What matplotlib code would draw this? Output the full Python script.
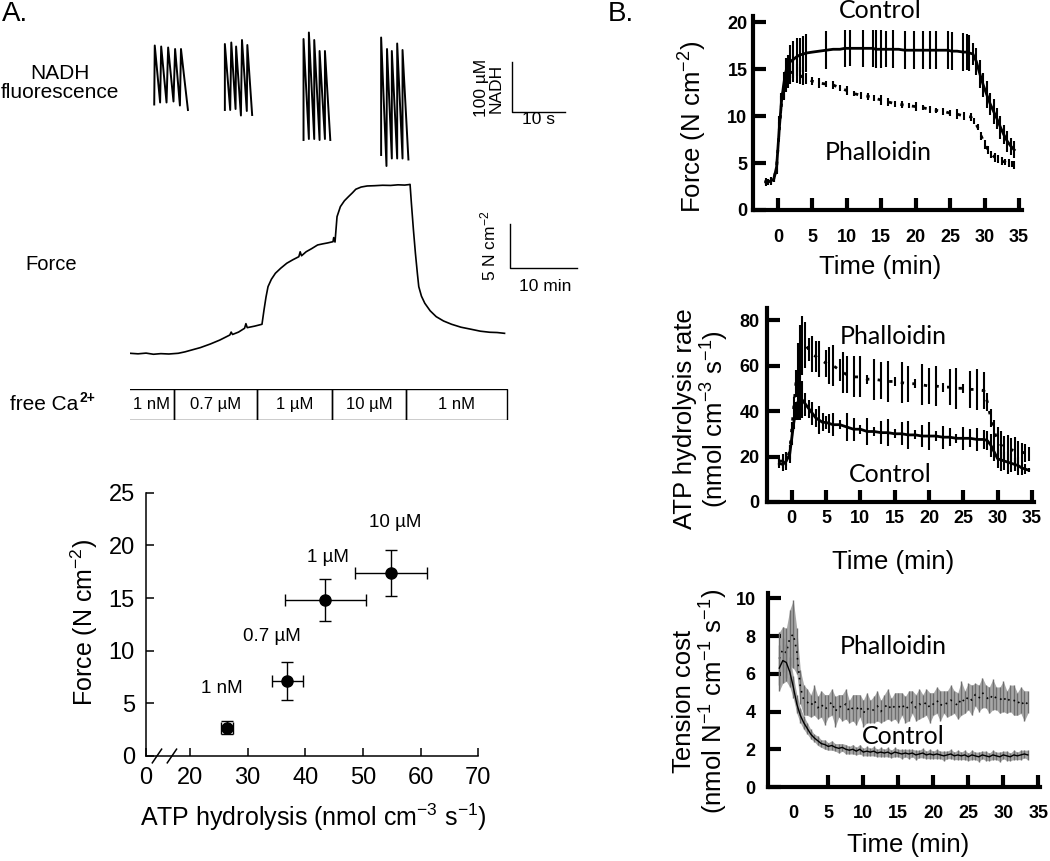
import numpy as np
import matplotlib
matplotlib.use("Agg")
import matplotlib.pyplot as plt

plt.rcParams['font.family'] = ['Liberation Sans', 'DejaVu Sans']
plt.rcParams['mathtext.fontset'] = 'custom'
plt.rcParams['mathtext.rm'] = 'Liberation Sans'
plt.rcParams['mathtext.it'] = 'Liberation Sans:italic'
plt.rcParams['mathtext.bf'] = 'Liberation Sans:bold'
plt.rcParams['mathtext.default'] = 'regular'

# ---------------- data, panel A ----------------
# NADH fluorescence snippets (time in s, NADH in uM, relative)
nadh_t1 = [4.9, 5.0, 6.0, 6.2, 7.2, 7.5, 8.5, 8.8, 9.7, 9.9, 11.2]
nadh_v1 = [141, 259, 145, 257, 145, 255, 147, 252, 139, 252, 130]
nadh_t2 = [18.1, 18.1, 19.1, 19.3, 20.1, 20.2, 21.1, 21.3, 22.2, 22.3, 23.2]
nadh_v2 = [130, 262, 130, 265, 132, 257, 119, 270, 128, 260, 120]
nadh_t3 = [32.8, 32.8, 33.8, 33.8, 34.8, 34.8, 35.8, 35.8, 36.8, 36.8, 37.8]
nadh_v3 = [70, 272, 72, 285, 72, 270, 70, 248, 72, 248, 70]
nadh_t4 = [47.3, 47.3, 48.3, 48.4, 49.3, 49.3, 50.3, 50.3, 51.3, 51.3, 52.4]
nadh_v4 = [40, 275, 18, 252, 33, 248, 33, 263, 33, 250, 31]

# force trace (time in min, force in N cm-2)
force_t = [0.0, 1.2, 2.4, 3.5, 4.6, 5.8, 7.2, 8.2, 9.2, 10.5, 12.0, 13.4, 14.9, 15.1,
           15.3, 16.2, 17.1, 17.3, 17.5, 18.6, 19.7, 20.0, 20.3, 20.6, 21.1, 21.7,
           22.5, 23.4, 24.3, 25.2, 25.4, 25.6, 26.3, 27.1, 28.0, 28.8, 29.5, 30.3,
           30.4, 30.6, 30.9, 31.4, 32.0, 32.6, 33.2, 33.7, 34.5, 35.4, 36.5, 37.7,
           38.9, 40.0, 41.0, 41.6, 41.8, 42.0, 42.3, 42.6, 42.9, 43.1, 43.5, 44.0,
           44.8, 45.7, 46.8, 48.0, 49.4, 50.9, 52.3, 53.7, 54.8, 55.9]
force_v = [2.56, 2.50, 2.58, 2.45, 2.52, 2.48, 2.56, 2.72, 2.93, 3.20, 3.61, 4.05, 4.62, 4.95,
           4.68, 4.95, 5.38, 5.90, 5.45, 5.62, 5.83, 7.44, 8.90, 10.07, 10.90, 11.58,
           12.15, 12.71, 13.10, 13.45, 14.00, 13.55, 14.01, 14.35, 14.77, 14.90, 15.00, 15.14,
           15.60, 15.10, 17.96, 19.09, 19.75, 20.21, 20.65, 21.05, 21.30, 21.42, 21.45, 21.50,
           21.48, 21.55, 21.52, 21.57, 21.60, 19.47, 16.50, 13.83, 11.50, 10.07, 9.00, 8.20,
           7.35, 6.69, 6.20, 5.83, 5.50, 5.27, 5.05, 4.93, 4.90, 4.81]

# free Ca2+ protocol (edges in min on the force trace time base)
ca_edges = [-0.3, 6.6, 19.0, 30.1, 41.2, 56.2]
ca_labels = ['1 nM', '0.7 µM', '1 µM', '10 µM', '1 nM']

# force vs ATP hydrolysis
pt_labels = ['1 nM', '0.7 µM', '1 µM', '10 µM']
atp_mean = [26.4, 36.9, 43.5, 54.9]
atp_err = [1.1, 2.65, 7.0, 6.2]
frc_mean = [2.7, 7.1, 14.8, 17.4]
frc_err = [0.6, 1.8, 2.0, 2.2]

# ---------------- data, panel B ----------------
fc_t = [-1.8, -1.4, -1.0, -0.6, -0.2, 0.2, 0.5, 0.8, 1.1, 1.4, 1.8, 2.2, 2.7, 3.2, 3.7, 4.1,
        5.0, 6.0, 7.0, 8.0, 9.0, 9.7, 10.5, 11.5, 12.3, 13.0, 13.8, 14.2, 15.0, 15.7, 16.7,
        17.5, 18.4, 19.8, 21.0, 22.0, 23.0, 24.0, 24.7, 25.2, 26.0, 26.9, 27.4, 27.8, 28.3,
        28.8, 29.3, 29.8, 30.3, 30.8, 31.3, 31.8, 32.3, 32.8, 33.3, 33.8, 34.3]
fc_v = [3.0, 3.0, 3.1, 3.3, 4.6, 8.8, 11.5, 13.2, 14.6, 15.3, 15.8, 16.0, 16.3, 16.5, 16.6, 16.7,
        16.8, 16.9, 17.0, 17.1, 17.1, 17.2, 17.2, 17.2, 17.2, 17.2, 17.2, 17.1, 17.1, 17.1, 17.1,
        17.1, 17.0, 17.0, 17.0, 17.0, 17.0, 17.0, 17.0, 16.9, 16.9, 16.8, 16.8, 16.7, 16.6,
        15.8, 14.5, 13.3, 12.3, 11.3, 10.5, 9.7, 8.8, 8.0, 7.3, 6.8, 6.4]
fc_e = [0.4, 0.3, 0.4, 0.3, 0.8, 1.2, 1.0, 1.5, 1.6, 1.2, 1.8, 2.0, 2.0, 1.8, 1.9, 2.0,
        0.0, 0.0, 2.0, 0.0, 0.0, 2.0, 1.9, 0.0, 2.0, 0.0, 2.0, 2.0, 2.0, 1.9, 2.0,
        0.0, 2.0, 2.0, 2.0, 2.0, 2.0, 0.0, 2.0, 2.0, 0.0, 2.0, 1.9, 1.9, 1.2,
        1.4, 1.5, 1.3, 1.4, 1.2, 1.3, 1.1, 1.2, 1.0, 1.1, 0.9, 0.9]

fp_t = [-1.8, -1.4, -1.0, -0.6, -0.2, 0.2, 0.5, 0.8, 1.1, 1.4, 1.8, 2.2, 2.7, 3.2, 3.7, 4.1,
        5, 6, 7, 8, 9, 10, 11, 12, 13, 14, 15, 16, 17, 18, 19, 20, 21, 22, 23, 24, 25, 26, 27,
        28, 28.5, 29, 29.5, 30, 30.5, 31, 31.5, 32, 32.5, 33, 33.5, 34, 34.3]
fp_v = [3.0, 3.0, 3.1, 3.3, 4.6, 8.6, 11.2, 12.8, 13.8, 14.3, 14.6, 14.7, 14.5, 14.3, 14.1, 14.0,
        13.7, 13.5, 13.4, 13.3, 13.0, 12.7, 12.4, 12.2, 12.1, 11.9, 11.7, 11.5, 11.3, 11.2, 11.1,
        11.0, 10.9, 10.7, 10.6, 10.5, 10.3, 10.2, 10.0, 9.9, 9.5, 8.8, 7.9, 7.0, 6.4, 5.9, 5.6,
        5.4, 5.2, 5.1, 5.0, 4.9, 4.8]
fp_e = [0.3, 0.3, 0.3, 0.3, 0.6, 0.8, 0.9, 1.0, 1.2, 1.3, 1.2, 1.1, 1.0, 0.9, 0.8, 0.6,
        0.4, 0.5, 0.3, 0.4, 0.3, 0.5, 0.3, 0.4, 0.4, 0.3, 0.5, 0.4, 0.3, 0.4, 0.3,
        0.5, 0.3, 0.4, 0.3, 0.4, 0.3, 0.5, 0.4, 0.4, 0.3, 0.3, 0.4, 0.5, 0.4, 0.4, 0.5,
        0.4, 0.4, 0.3, 0.4, 0.3, 0.4]

ac_t = [-1.8, -1.3, -0.8, -0.3, 0.0, 0.3, 0.6, 0.9, 1.2, 1.5, 2.0, 2.5, 3.0, 3.5, 4.0, 4.5, 5.0,
        5.5, 6.0, 7.0, 8.0, 9.0, 10.0, 11.0, 12.0, 13.0, 14.0, 15.0, 16.0, 17.0, 18.0, 19.0,
        20.0, 21.0, 22.0, 23.0, 24.0, 25.0, 26.0, 27.0, 28.0, 28.5, 29.0, 29.5, 30.0, 30.5,
        31.0, 31.5, 32.0, 32.5, 33.0, 33.5, 34.0, 34.5]
ac_v = [17, 16.5, 18, 21, 28, 35, 40, 44, 46, 45, 43, 41, 39, 37, 36, 35, 35,
        34.5, 34, 34, 33, 32, 32, 31, 31, 30.5, 30.5, 30, 30, 29.5, 29.5, 29,
        29, 29, 28.5, 28.5, 28, 28, 28, 27.5, 27.5, 27, 25, 22, 19, 18.5,
        18, 17.5, 17, 16.5, 16, 15, 14.5, 14]
ac_e = [2, 3, 4, 4, 3, 3, 4, 8, 10, 8, 5, 4, 5, 4, 6, 4, 3,
        4, 5, 2, 6, 5, 2, 6, 2, 5, 6, 2, 5, 6, 2, 5,
        6, 2, 5, 4, 2, 5, 4, 5, 4, 4, 5, 4, 4, 5,
        4, 5, 4, 3, 4, 3, 2, 1]

ap_t = [-1.8, -1.3, -0.8, -0.3, 0.0, 0.3, 0.6, 0.9, 1.2, 1.5, 2.0, 2.5, 3.0, 3.5, 4.0, 5.0,
        5.5, 6.0, 7.0, 7.5, 8.0, 9.0, 10.0, 11.0, 12.0, 13.0, 14.0, 15.0, 16.0, 17.0, 18.0,
        19.0, 20.0, 21.0, 22.0, 23.0, 24.0, 25.0, 26.0, 27.0, 28.0, 28.5, 29.0, 29.5, 30.0,
        30.5, 31.0, 31.5, 32.0, 32.5, 33.0, 33.5, 34.0, 34.5]
ap_v = [18, 18, 19, 22, 32, 42, 52, 60, 66, 69, 69, 67, 65, 64, 63, 61,
        60, 60, 58, 57, 56, 55, 55, 54, 54, 53.5, 53, 53, 52.5, 52, 52,
        51.5, 51, 51, 50.5, 50.5, 50, 50, 49.5, 49.5, 49, 44, 37, 31, 27,
        25, 24, 23.5, 23, 22.5, 22, 22, 21.5, 21]
ap_e = [2, 3, 3, 3, 3, 4, 6, 10, 12, 13, 10, 5, 8, 7, 8, 6,
        8, 9, 5, 9, 8, 9, 9, 2, 9, 8, 9, 2, 9, 8, 2,
        9, 8, 9, 2, 8, 9, 2, 8, 9, 8, 4, 4, 5, 6,
        6, 5, 6, 5, 6, 5, 4, 4, 3]

# tension cost, sampled every 0.5 min from -2 to 33.5 min
tc_t = np.arange(-2.0, 34.0, 0.5)
tp_v = [6.8, 7.3, 7.1, 7.9, 8.1, 7.2, 5.3, 4.6, 4.5, 4.3, 4.6, 4.2, 4.4, 4.1, 4.3, 4.5,
        4.0, 4.3, 4.2, 4.4, 4.0, 4.2, 4.1, 4.3, 3.9, 4.2, 4.0, 4.1, 4.3, 4.0, 4.2, 4.4,
        4.1, 4.3, 4.2, 4.4, 4.1, 4.3, 4.5, 4.2, 4.4, 4.3, 4.5, 4.2, 4.4, 4.6, 4.3, 4.5,
        4.4, 4.6, 4.5, 4.3, 4.7, 4.5, 4.8, 4.6, 4.9, 4.7, 5.0, 4.8, 4.6, 4.9, 4.7, 4.6,
        4.8, 4.5, 4.7, 4.6, 4.4, 4.6, 4.3, 4.5]
tp_e = [1.4, 1.2, 1.3, 1.5, 1.8, 1.2, 0.9, 0.8, 0.7, 0.6, 0.8, 0.6, 0.7, 0.8, 0.6, 0.7,
        0.8, 0.6, 0.7, 0.8, 0.6, 0.7, 0.8, 0.6, 0.7, 0.8, 0.6, 0.7, 0.8, 0.6, 0.7, 0.8,
        0.6, 0.7, 0.8, 0.6, 0.7, 0.8, 0.6, 0.7, 0.8, 0.6, 0.7, 0.8, 0.6, 0.7, 0.8, 0.6,
        0.7, 0.8, 0.6, 0.7, 0.9, 0.6, 0.7, 0.8, 0.6, 0.7, 0.8, 0.6, 0.7, 0.8, 0.6, 0.7,
        0.8, 0.6, 0.7, 0.8, 0.6, 0.7, 0.8, 0.6]
tcn_v = [6.3, 6.7, 6.6, 6.1, 5.3, 4.4, 3.8, 3.4, 3.1, 2.8, 2.6, 2.45, 2.3, 2.25, 2.15, 2.2,
         2.1, 2.05, 2.1, 2.0, 1.95, 2.0, 1.9, 2.0, 1.85, 1.9, 1.85, 1.9, 1.8, 1.85, 1.8, 1.85,
         1.75, 1.85, 1.8, 1.75, 1.8, 1.75, 1.8, 1.7, 1.75, 1.8, 1.7, 1.75, 1.7, 1.75, 1.7, 1.65,
         1.7, 1.75, 1.65, 1.7, 1.65, 1.7, 1.6, 1.7, 1.65, 1.6, 1.7, 1.65, 1.6, 1.7, 1.65, 1.6,
         1.7, 1.65, 1.6, 1.7, 1.65, 1.7, 1.75, 1.7]
tcn_e = [1.2, 1.2, 1.0, 0.8, 0.6, 0.5, 0.4, 0.35, 0.3, 0.25, 0.2, 0.25, 0.2, 0.25, 0.2, 0.25,
         0.2, 0.25, 0.2, 0.25, 0.2, 0.25, 0.2, 0.25, 0.2, 0.25, 0.2, 0.25, 0.2, 0.25, 0.2, 0.25,
         0.2, 0.25, 0.2, 0.25, 0.2, 0.25, 0.2, 0.25, 0.2, 0.25, 0.2, 0.25, 0.2, 0.25, 0.2, 0.25,
         0.2, 0.25, 0.2, 0.25, 0.2, 0.25, 0.2, 0.25, 0.2, 0.25, 0.2, 0.25, 0.2, 0.25, 0.2, 0.25,
         0.2, 0.25, 0.2, 0.25, 0.2, 0.25, 0.2, 0.25]

# ---------------- figure ----------------
W, H = 1050, 861
fig = plt.figure(figsize=(W / 100, H / 100), dpi=100)


def px_axes(x0, y0, x1, y1):
    return fig.add_axes([x0 / W, 1 - y1 / H, (x1 - x0) / W, (y1 - y0) / H])


def px_text(x, y, s, **kw):
    kw.setdefault('ha', 'center')
    kw.setdefault('va', 'center')
    return fig.text(x / W, 1 - y / H, s, **kw)


px_text(2, 14, 'A.', fontsize=20, ha='left')
px_text(608, 14, 'B.', fontsize=20, ha='left')

# NADH traces
ax = px_axes(128, 20, 600, 175)
for tt, vv in [(nadh_t1, nadh_v1), (nadh_t2, nadh_v2), (nadh_t3, nadh_v3), (nadh_t4, nadh_v4)]:
    ax.plot(tt, vv, color='black', lw=1.4)
ax.plot([71.7, 71.7, 81.7], [226.6, 126.6, 126.6], color='black', lw=1)
ax.set_xlim(0, 88.2)
ax.set_ylim(0, 310)
ax.axis('off')
px_text(60, 83, 'NADH\nfluorescence', fontsize=15, linespacing=1.0)
px_text(489, 88, '100 µM\nNADH', fontsize=12.5, rotation=90, linespacing=0.95)
px_text(539, 120, '10 s', fontsize=12.5)

# force trace
ax = px_axes(130, 170, 600, 376)
ax.plot(force_t, force_v, color='black', lw=1.2)
ax.plot([56.7, 56.7, 66.7], [17.14, 12.14, 12.14], color='black', lw=1)
ax.set_xlim(0, 70.15)
ax.set_ylim(0, 23.22)
ax.axis('off')
px_text(51, 265, 'Force', fontsize=14.5)
px_text(488, 246, '5 N cm$^{-2}$', fontsize=12.5, rotation=90)
px_text(545, 287, '10 min', fontsize=12.5)

# Ca protocol bar
ax = px_axes(130, 389, 600, 420)
widths = np.diff(ca_edges)
ax.bar(ca_edges[:-1], [1] * len(widths), width=widths, align='edge', bottom=0,
       fill=False, edgecolor='black', lw=1)
for left, w, lab in zip(ca_edges[:-1], widths, ca_labels):
    ax.text(left + w / 2, 0.5, lab, ha='center', va='center', fontsize=12)
ax.set_xlim(0, 70.15)
ax.set_ylim(0, 1)
ax.axis('off')
ca_txt = px_text(10, 405, 'free Ca', fontsize=15, ha='left')
fig.canvas.draw()
bb = ca_txt.get_window_extent()
fig.text((bb.x1 + 1) / W, (bb.y1 - 3) / H, '2+', fontsize=10, fontweight='bold',
         ha='left', va='center')

# force vs ATP hydrolysis
x_break = 12.37
ax = px_axes(146, 492.7, 478.3, 756)
ax.errorbar(atp_mean, frc_mean, xerr=atp_err, yerr=frc_err, fmt='o', color='black',
            ms=8, elinewidth=1, capsize=4, capthick=1)
lbl_dx = [-0.9, -2.7, 0.4, 0.7]
lbl_dy = [3.7, 4.2, 4.0, 4.8]
for xm, ym, dx, dy, lab in zip(atp_mean, frc_mean, lbl_dx, lbl_dy, pt_labels):
    ax.text(xm + dx, ym + dy, lab, ha='center', va='center', fontsize=13.5)
ax.set_xlim(x_break, 70)
ax.set_ylim(0, 25)
ax.set_xticks([x_break, 20, 30, 40, 50, 60, 70])
ax.set_xticklabels(['0', '20', '30', '40', '50', '60', '70'])
ax.set_yticks([0, 5, 10, 15, 20, 25])
ax.spines['top'].set_visible(False)
ax.spines['right'].set_visible(False)
for s in ['left', 'bottom']:
    ax.spines[s].set_linewidth(1.1)
ax.tick_params(direction='in', length=6, width=1.1, labelsize=17, pad=8)
# axis break marks
ax.plot([0.040, 0.070], [0.025, 0.025], transform=ax.transAxes, color='white', lw=3,
        clip_on=False, solid_capstyle='butt')
for xc in [0.033, 0.078]:
    ax.plot([xc - 0.014, xc + 0.014], [-0.026, 0.026], transform=ax.transAxes,
            color='black', lw=1.1, clip_on=False)
px_text(84, 622, 'Force (N cm$^{-2}$)', fontsize=18, rotation=90)
px_text(313, 817, 'ATP hydrolysis (nmol cm$^{-3}$ s$^{-1}$)', fontsize=18)


def style_b(ax, xpad, ypad):
    ax.spines['top'].set_visible(False)
    ax.spines['right'].set_visible(False)
    for s in ['left', 'bottom']:
        ax.spines[s].set_linewidth(3)
    ax.tick_params(direction='in', length=9, width=3, labelsize=13)
    ax.tick_params(axis='x', pad=xpad)
    ax.tick_params(axis='y', pad=ypad)
    for lab in ax.get_xticklabels() + ax.get_yticklabels():
        lab.set_fontweight('bold')
    ax.set_xticks([0, 5, 10, 15, 20, 25, 30, 35])


note_font = dict(family=['Lato', 'DejaVu Sans'], fontsize=18)

# B: force
ax = px_axes(753, 16, 1022, 210)
ax.errorbar(fp_t, fp_v, yerr=fp_e, color='black', ls=(0, (1.2, 3)), lw=2,
            elinewidth=1.5, capsize=0)
ax.errorbar(fc_t, fc_v, yerr=fc_e, color='black', ls='-', lw=2,
            elinewidth=1.5, capsize=0)
ax.set_xlim(-3.63, 35.43)
ax.set_ylim(0, 20.64)
ax.set_yticks([0, 5, 10, 15, 20])
style_b(ax, 14, 4)
px_text(693, 127, 'Force (N cm$^{-2}$)', fontsize=18.5, rotation=90)
px_text(880, 267, 'Time (min)', fontsize=18.5)
px_text(880, 11, 'Control', **note_font)
px_text(878, 153, 'Phalloidin', **note_font)

# B: ATP hydrolysis rate
ax = px_axes(766.7, 308, 1034, 502)
ax.errorbar(ap_t, ap_v, yerr=ap_e, color='black', ls=(0, (1.2, 3)), lw=2,
            elinewidth=1.5, capsize=0)
ax.errorbar(ac_t, ac_v, yerr=ac_e, color='black', ls='-', lw=2,
            elinewidth=1.5, capsize=0)
ax.set_xlim(-3.65, 35.3)
ax.set_ylim(0, 85.3)
ax.set_yticks([0, 20, 40, 60, 80])
style_b(ax, 6, 5)
px_text(702, 419, 'ATP hydrolysis rate\n(nmol cm$^{-3}$ s$^{-1}$)', fontsize=18.5,
        rotation=90, linespacing=1.1)
px_text(893, 562, 'Time (min)', fontsize=18.5)
px_text(893, 337, 'Phalloidin', **note_font)
px_text(890, 475, 'Control', **note_font)

# B: tension cost
ax = px_axes(768.3, 593, 1040, 787)
tp_v = np.array(tp_v)
tp_e = np.array(tp_e)
tcn_v = np.array(tcn_v)
tcn_e = np.array(tcn_e)
ax.fill_between(tc_t, tp_v - tp_e, tp_v + tp_e, color='#a8a8a8', lw=0)
ax.errorbar(tc_t, tp_v, yerr=tp_e, color='#6e6e6e', ls='none', elinewidth=1)
ax.plot(tc_t, tp_v, color='black', ls=(0, (1, 3)), lw=1.2)
ax.fill_between(tc_t, tcn_v - tcn_e, tcn_v + tcn_e, color='#a8a8a8', lw=0)
ax.errorbar(tc_t, tcn_v, yerr=tcn_e, color='#6e6e6e', ls='none', elinewidth=1)
ax.plot(tc_t, tcn_v, color='black', lw=1)
ax.set_xlim(-3.57, 35.24)
ax.set_ylim(0, 10.28)
ax.set_yticks([0, 2, 4, 6, 8, 10])
style_b(ax, 13, 9)
ax.xaxis.get_major_ticks()[0].tick1line.set_visible(False)
px_text(701, 701, 'Tension cost\n(nmol N$^{-1}$ cm$^{-1}$ s$^{-1}$)', fontsize=18.5,
        rotation=90, linespacing=1.1)
px_text(908, 845, 'Time (min)', fontsize=18.5)
px_text(893, 646, 'Phalloidin', **note_font)
px_text(903, 737, 'Control', **note_font)

fig.savefig('out.png', dpi=100)
